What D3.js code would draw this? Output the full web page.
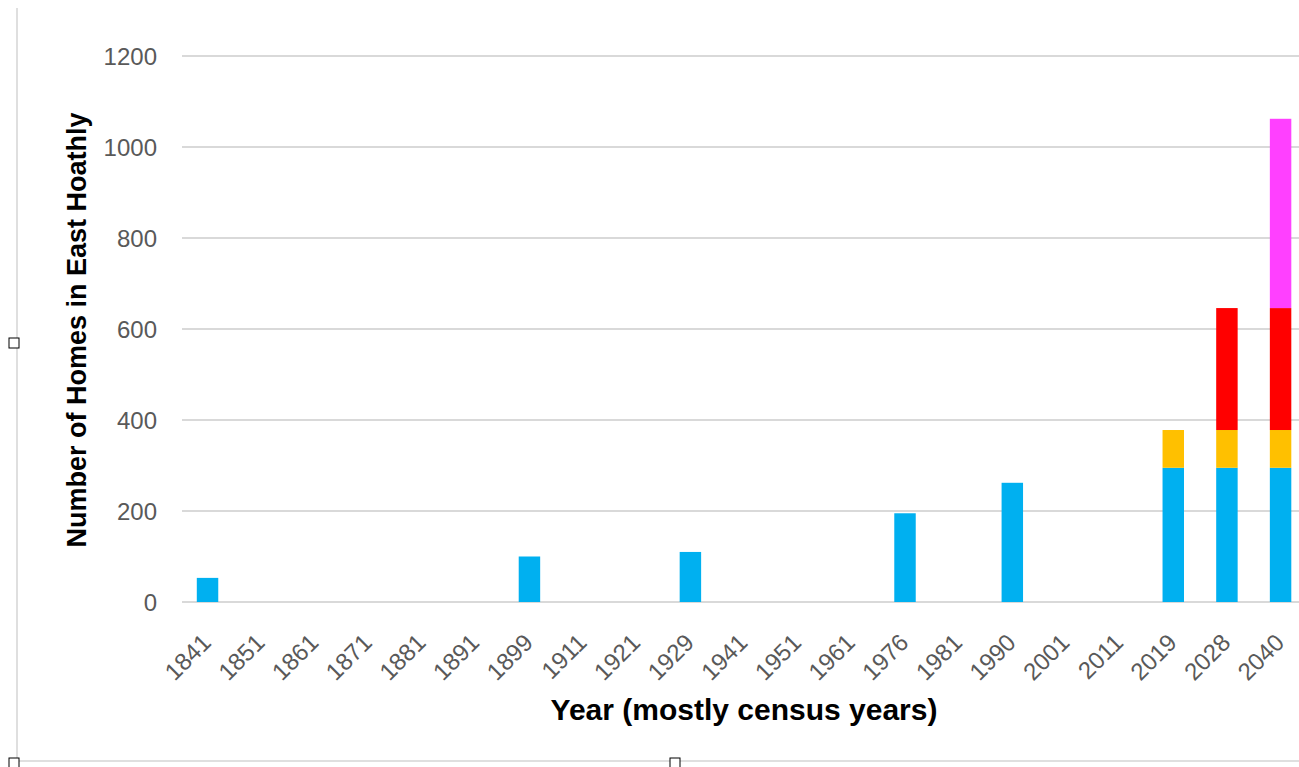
<!DOCTYPE html>
<html>
<head>
<meta charset="utf-8">
<script src="https://cdn.jsdelivr.net/npm/d3@7"></script>
<style>
  html, body { margin: 0; padding: 0; background: #fff; }
  svg { display: block; }
</style>
</head>
<body>
<svg id="chart" width="1299" height="767"></svg>
<script>
const categories = ["1841","1851","1861","1871","1881","1891","1899","1911","1921","1929","1941","1951","1961","1976","1981","1990","2001","2011","2019","2028","2040"];
const seriesBlue    = [53,0,0,0,0,0,100,0,0,110,0,0,0,195,0,262,0,0,295,295,295];
const seriesYellow  = [0,0,0,0,0,0,0,0,0,0,0,0,0,0,0,0,0,0,83,83,83];
const seriesRed     = [0,0,0,0,0,0,0,0,0,0,0,0,0,0,0,0,0,0,0,268,268];
const seriesMagenta = [0,0,0,0,0,0,0,0,0,0,0,0,0,0,0,0,0,0,0,0,416];
const seriesNames   = ["blue","yellow","red","magenta"];
const seriesColors  = ["#00B0F0","#FFC000","#FF0000","#FF40FF"];
const yTicks = [0,200,400,600,800,1000,1200];

const svg = d3.select("#chart");

const rows = categories.map((c, i) => ({
  cat: c,
  blue: seriesBlue[i], yellow: seriesYellow[i], red: seriesRed[i], magenta: seriesMagenta[i]
}));

const x = d3.scaleBand().domain(categories).range([180.7, 1307.4]).paddingInner(0.6).paddingOuter(0.3);
const y = d3.scaleLinear().domain([0, 1200]).range([602, 56]);

// frame lines (document borders)
svg.append("line").attr("x1", 17).attr("x2", 17).attr("y1", 8).attr("y2", 761)
  .attr("stroke", "#d4d4d4").attr("stroke-width", 1.5);
svg.append("line").attr("x1", 17).attr("x2", 1299).attr("y1", 761).attr("y2", 761)
  .attr("stroke", "#d4d4d4").attr("stroke-width", 1.5);

// gridlines
svg.append("g").selectAll("line").data(yTicks).join("line")
  .attr("x1", 182).attr("x2", 1299)
  .attr("y1", d => y(d)).attr("y2", d => y(d))
  .attr("stroke", "#d9d9d9").attr("stroke-width", 2);

// y tick labels
const yAxis = d3.axisLeft(y).tickValues(yTicks).tickFormat(d3.format("d")).tickSize(0).tickPadding(0);
const yg = svg.append("g").attr("transform", "translate(157,0)").call(yAxis);
yg.select(".domain").remove();
yg.selectAll("text")
  .attr("font-family", "'Liberation Sans', Arial, sans-serif")
  .attr("font-size", 24).attr("fill", "#595959").attr("dy", "0.35em");

// stacked bars
const stack = d3.stack().keys(seriesNames)(rows);
svg.append("g").selectAll("g").data(stack).join("g")
  .attr("fill", (d, i) => seriesColors[i])
  .selectAll("rect").data(d => d).join("rect")
  .attr("x", d => x(d.data.cat))
  .attr("width", x.bandwidth())
  .attr("y", d => y(d[1]))
  .attr("height", d => Math.max(0, y(d[0]) - y(d[1])));

// x tick labels
const xAxis = d3.axisBottom(x).tickSize(0).tickPadding(0);
const xg = svg.append("g").attr("transform", "translate(0,602)").call(xAxis);
xg.select(".domain").remove();
xg.selectAll("text")
  .attr("font-family", "'Liberation Sans', Arial, sans-serif")
  .attr("font-size", 24).attr("fill", "#595959")
  .attr("text-anchor", "end")
  .attr("dy", null).attr("y", null)
  .attr("transform", "translate(5,42) rotate(-45)");

// axis titles
svg.append("text")
  .attr("transform", "translate(86,330) rotate(-90)")
  .attr("text-anchor", "middle")
  .attr("font-family", "'Liberation Sans', Arial, sans-serif")
  .attr("font-weight", "bold").attr("font-size", 27).attr("fill", "#000")
  .text("Number of Homes in East Hoathly");

svg.append("text")
  .attr("x", 744).attr("y", 720)
  .attr("text-anchor", "middle")
  .attr("font-family", "'Liberation Sans', Arial, sans-serif")
  .attr("font-weight", "bold").attr("font-size", 30).attr("fill", "#000")
  .text("Year (mostly census years)");

// selection handles
const handles = [[14,343],[14,763],[675,763]];
svg.append("g").selectAll("rect").data(handles).join("rect")
  .attr("x", d => d[0] - 5).attr("y", d => d[1] - 5)
  .attr("width", 10).attr("height", 10)
  .attr("fill", "#fff").attr("stroke", "#000").attr("stroke-width", 1);
</script>
</body>
</html>
